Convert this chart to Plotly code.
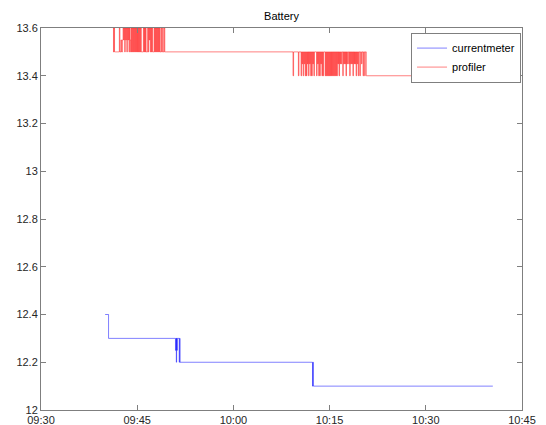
import pandas as pd
import plotly.graph_objects as go

DAY = "2000-01-01 "

# ---- currentmeter (blue) : step points ----
cm_times = ["09:40:00", "09:40:32", "09:50:58", "09:51:03", "09:51:06", "09:51:09",
            "09:51:12", "09:51:15", "09:51:33", "09:51:37", "09:51:41", "10:12:20",
            "10:12:24", "10:12:28", "10:40:27"]
cm_values = [12.4, 12.3, 12.25, 12.3, 12.2, 12.3,
             12.25, 12.3, 12.2, 12.3, 12.2, 12.1,
             12.2, 12.1, 12.1]

# ---- profiler (red) ----
pf_start = "09:41:13"
pf_step_s = 5
pf_burst1 = [13.6, 13.5, 13.6, 13.5,
             13.5, 13.5, 13.5, 13.5, 13.5, 13.5, 13.5, 13.5,
             13.6, 13.5,
             13.5, 13.55, 13.5, 13.5, 13.55,
             13.6, 13.55, 13.6, 13.5, 13.6, 13.55, 13.6, 13.5, 13.6, 13.55, 13.6, 13.5, 13.6, 13.55, 13.5,
             13.6, 13.5, 13.6, 13.5, 13.6, 13.5, 13.6, 13.5, 13.6, 13.5, 13.6, 13.5, 13.6, 13.5, 13.6, 13.5,
             13.6, 13.5, 13.6,
             13.5, 13.5, 13.5, 13.5,
             13.6, 13.5, 13.6, 13.5, 13.6, 13.5,
             13.5, 13.5,
             13.6, 13.5, 13.6, 13.55, 13.6, 13.5, 13.6, 13.5, 13.6, 13.5,
             13.5, 13.5,
             13.6, 13.5, 13.6, 13.5, 13.6, 13.5, 13.6, 13.5, 13.6, 13.5, 13.6, 13.5, 13.5,
             13.6, 13.5, 13.5, 13.6, 13.5, 13.5, 13.6, 13.5, 13.5, 13.5]
pf_mid_start = "09:49:37"
pf_mid_value = 13.5
pf_burst2_start = "10:09:18"
pf_burst2 = [13.4, 13.5,
             13.5, 13.5, 13.5, 13.5, 13.5, 13.5, 13.5, 13.5,
             13.4, 13.5,
             13.5, 13.5, 13.5,
             13.4, 13.5, 13.45, 13.5, 13.4, 13.5, 13.45, 13.5, 13.4, 13.5, 13.4, 13.5, 13.45,
             13.5, 13.4, 13.5, 13.45, 13.5, 13.4, 13.5, 13.4, 13.5, 13.45, 13.5, 13.4, 13.5,
             13.5, 13.5, 13.5,
             13.4, 13.5, 13.45, 13.5, 13.4, 13.5, 13.4, 13.5, 13.45, 13.5, 13.4, 13.5, 13.4, 13.5,
             13.5, 13.5,
             13.4, 13.5, 13.4, 13.5, 13.4, 13.5, 13.4, 13.5, 13.4, 13.5, 13.4, 13.5, 13.4, 13.5,
             13.4, 13.5, 13.4, 13.5, 13.4, 13.5, 13.4, 13.5, 13.4,
             13.5, 13.45, 13.5, 13.4, 13.5, 13.45, 13.5, 13.45, 13.5, 13.5, 13.4, 13.5, 13.45,
             13.5, 13.45, 13.5, 13.4, 13.5, 13.45, 13.5, 13.5, 13.45, 13.5, 13.4, 13.5, 13.45,
             13.5, 13.45, 13.5, 13.4, 13.5, 13.45, 13.5, 13.45, 13.5, 13.4, 13.5, 13.45,
             13.5, 13.4, 13.5, 13.5, 13.4, 13.5, 13.5, 13.45, 13.5, 13.5, 13.4, 13.5, 13.5,
             13.4, 13.5, 13.5, 13.4]
pf_end_start = "10:20:47"
pf_end_value = 13.4
pf_end_time = "10:40:18"

x_ticks = ["09:30", "09:45", "10:00", "10:15", "10:30", "10:45"]
y_ticks = [12, 12.2, 12.4, 12.6, 12.8, 13, 13.2, 13.4, 13.6]

# ---- build series ----
cm_x = pd.to_datetime([DAY + t for t in cm_times])

b1_t = pd.date_range(DAY + pf_start, periods=len(pf_burst1), freq=f"{pf_step_s}s")
b2_t = pd.date_range(DAY + pf_burst2_start, periods=len(pf_burst2), freq=f"{pf_step_s}s")
pf_x = (list(b1_t) + [pd.Timestamp(DAY + pf_mid_start)] + list(b2_t)
        + [pd.Timestamp(DAY + pf_end_start), pd.Timestamp(DAY + pf_end_time)])
pf_y = list(pf_burst1) + [pf_mid_value] + list(pf_burst2) + [pf_end_value, pf_end_value]

fig = go.Figure()
fig.add_trace(go.Scatter(x=cm_x, y=cm_values, mode="lines", name="currentmeter",
                         line=dict(color="#0000ff", width=0.5, shape="hv")))
fig.add_trace(go.Scatter(x=pf_x, y=pf_y, mode="lines", name="profiler",
                         line=dict(color="#ff0000", width=0.5, shape="hv")))

axis_col = "#7f7f7f"
# page body has an 8px default margin: the figure is sized / offset to compensate
fig.update_layout(
    width=538, height=417,
    paper_bgcolor="white", plot_bgcolor="white",
    margin=dict(l=33, r=24, t=20, b=15, autoexpand=False),
    font=dict(family="Liberation Sans, Arial, sans-serif", size=11, color="#262626"),
    title=dict(text="Battery", x=0.5, xref="paper", y=1 - 8 / 417, yref="container",
               xanchor="center", yanchor="middle", font=dict(size=11, color="#000000")),
    showlegend=True,
    legend=dict(x=0.998, y=0.988, xanchor="right", yanchor="top",
                bordercolor=axis_col, borderwidth=1, bgcolor="white",
                font=dict(size=11, color="#000000"), tracegroupgap=0),
)
fig.update_xaxes(
    type="date",
    range=[DAY + "09:30", DAY + "10:45"],
    tickvals=[DAY + t for t in x_ticks], ticktext=x_ticks,
    ticks="inside", ticklen=5, tickcolor=axis_col, mirror="ticks",
    showline=True, linecolor=axis_col, linewidth=1, showgrid=False, zeroline=False,
    automargin=False, ticklabelstandoff=0,
)
fig.update_yaxes(
    range=[12, 13.6],
    tickvals=y_ticks, ticktext=[f"{v:g}" for v in y_ticks],
    ticks="inside", ticklen=5, tickcolor=axis_col, mirror="ticks",
    showline=True, linecolor=axis_col, linewidth=1, showgrid=False, zeroline=False,
    automargin=False,
)

fig.write_html("out.html")
